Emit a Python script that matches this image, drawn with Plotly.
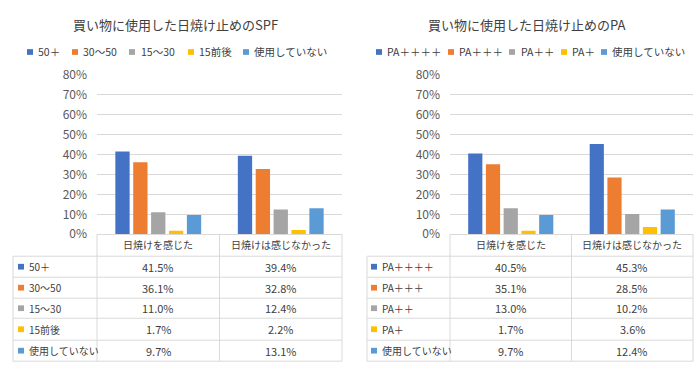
import plotly.graph_objects as go

W, H = 700, 372

# ---- data ----
categories = ["日焼けを感じた", "日焼けは感じなかった"]

spf_titles = "買い物に使用した日焼け止めのSPF"
spf_series = ["50＋", "30～50", "15～30", "15前後", "使用していない"]
spf_50 = [41.5, 39.4]
spf_30_50 = [36.1, 32.8]
spf_15_30 = [11.0, 12.4]
spf_15 = [1.7, 2.2]
spf_none = [9.7, 13.1]

pa_title = "買い物に使用した日焼け止めのPA"
pa_series = ["PA＋＋＋＋", "PA＋＋＋", "PA＋＋", "PA＋", "使用していない"]
pa_4 = [40.5, 45.3]
pa_3 = [35.1, 28.5]
pa_2 = [13.0, 10.2]
pa_1 = [1.7, 3.6]
pa_none = [9.7, 12.4]

y_ticks = [0, 10, 20, 30, 40, 50, 60, 70, 80]
y_tick_labels = ["0%", "10%", "20%", "30%", "40%", "50%", "60%", "70%", "80%"]

colors = ["#4472C4", "#ED7D31", "#A5A5A5", "#FFC000", "#5B9BD5"]

FONT = "Noto Sans CJK JP"
TXT = "#404040"
GRID = "#D9D9D9"


def px(x):
    return x / W


def py(y):
    return 1 - y / H


fig = go.Figure()

panels = [
    dict(title=spf_titles, names=spf_series,
         values=[spf_50, spf_30_50, spf_15_30, spf_15, spf_none],
         xaxis="x", yaxis="y", left=97, right=342, tleft=13, title_x=175,
         leg_sq=[27, 72, 129, 188, 243], leg_tx=[36, 81, 139, 197, 252],
         sq_x=18, lbl_x=27),
    dict(title=pa_title, names=pa_series,
         values=[pa_4, pa_3, pa_2, pa_1, pa_none],
         xaxis="x2", yaxis="y2", left=450, right=693, tleft=367, title_x=527,
         leg_sq=[376, 448, 509, 561, 601], leg_tx=[385, 457, 519, 570, 610],
         sq_x=371, lbl_x=380),
]

shapes = []
annotations = []

y0_px, y80_px = 235, 68
row_lines = [258, 280, 302, 323, 346, 368]

for p in panels:
    for name, vals, c in zip(p["names"], p["values"], colors):
        fig.add_trace(go.Bar(x=categories, y=vals, name=name, marker_color=c,
                             marker_line_width=0, xaxis=p["xaxis"], yaxis=p["yaxis"],
                             showlegend=False, hoverinfo="skip"))
    # title
    annotations.append(dict(text=p["title"], x=px(p["title_x"]), y=py(15), xref="paper", yref="paper",
                            showarrow=False, xanchor="center", yanchor="middle",
                            font=dict(family=FONT, size=13, color=TXT)))
    # legend
    for name, c, sx, tx in zip(p["names"], colors, p["leg_sq"], p["leg_tx"]):
        shapes.append(dict(type="rect", xref="paper", yref="paper", x0=px(sx), x1=px(sx + 6),
                           y0=py(47), y1=py(41), fillcolor=c, line_width=0))
        annotations.append(dict(text=name, x=px(tx), y=py(44), xref="paper", yref="paper",
                                showarrow=False, xanchor="left", yanchor="middle",
                                font=dict(family=FONT, size=10.5, color=TXT)))
    # table lines
    L, R, TL = p["left"], p["right"], p["tleft"]
    mid = (L + R) / 2
    for yy in row_lines:
        shapes.append(dict(type="line", xref="paper", yref="paper", x0=px(TL), x1=px(R),
                           y0=py(yy), y1=py(yy), line=dict(color=GRID, width=1)))
    for xx in [L, mid, R]:
        shapes.append(dict(type="line", xref="paper", yref="paper", x0=px(xx), x1=px(xx),
                           y0=py(y0_px), y1=py(368), line=dict(color=GRID, width=1)))
    shapes.append(dict(type="line", xref="paper", yref="paper", x0=px(TL), x1=px(TL),
                       y0=py(258), y1=py(368), line=dict(color=GRID, width=1)))
    # header
    for i, cat in enumerate(categories):
        cx = (L + mid) / 2 if i == 0 else (mid + R) / 2
        annotations.append(dict(text=cat, x=px(cx), y=py(246), xref="paper", yref="paper",
                                showarrow=False, xanchor="center", yanchor="middle",
                                font=dict(family=FONT, size=10, color=TXT)))
    # rows
    for r, (name, vals, c) in enumerate(zip(p["names"], p["values"], colors)):
        cy = (row_lines[r] + row_lines[r + 1]) / 2
        shapes.append(dict(type="rect", xref="paper", yref="paper", x0=px(p["sq_x"]), x1=px(p["sq_x"] + 6),
                           y0=py(cy + 3), y1=py(cy - 3), fillcolor=c, line_width=0))
        annotations.append(dict(text=name, x=px(p["lbl_x"]), y=py(cy), xref="paper", yref="paper",
                                showarrow=False, xanchor="left", yanchor="middle",
                                font=dict(family=FONT, size=10, color=TXT)))
        for i, v in enumerate(vals):
            cx = (L + mid) / 2 if i == 0 else (mid + R) / 2
            annotations.append(dict(text=f"{v:.1f}%", x=px(cx), y=py(cy), xref="paper", yref="paper",
                                    showarrow=False, xanchor="center", yanchor="middle",
                                    font=dict(family=FONT, size=11, color=TXT)))

yaxis_common = dict(range=[0, 80], tickmode="array", tickvals=y_ticks, ticktext=y_tick_labels,
                    showgrid=True, gridcolor=GRID, gridwidth=1, zeroline=False, showline=False,
                    tickfont=dict(family=FONT, size=12, color="#595959"),
                    ticklabelstandoff=9, domain=[py(y0_px), py(y80_px)])
xaxis_common = dict(showticklabels=False, showline=True, linecolor=GRID, linewidth=1,
                    showgrid=False, zeroline=False, ticks="")

fig.update_layout(
    width=W, height=H, margin=dict(l=0, r=0, t=0, b=0),
    paper_bgcolor="white", plot_bgcolor="white",
    barmode="group", bargap=0.27, bargroupgap=0.2,
    showlegend=False, hovermode=False,
    xaxis=dict(domain=[px(97), px(342)], anchor="y", fixedrange=True, **xaxis_common),
    yaxis=dict(anchor="x", fixedrange=True, **yaxis_common),
    xaxis2=dict(domain=[px(450), px(693)], anchor="y2", fixedrange=True, **xaxis_common),
    yaxis2=dict(anchor="x2", fixedrange=True, **yaxis_common),
    shapes=shapes, annotations=annotations,
    font=dict(family=FONT, color=TXT),
)

fig.write_html("out.html", config={"displayModeBar": False},
               post_script="document.body.style.margin='0px';document.body.style.overflow='hidden';")
